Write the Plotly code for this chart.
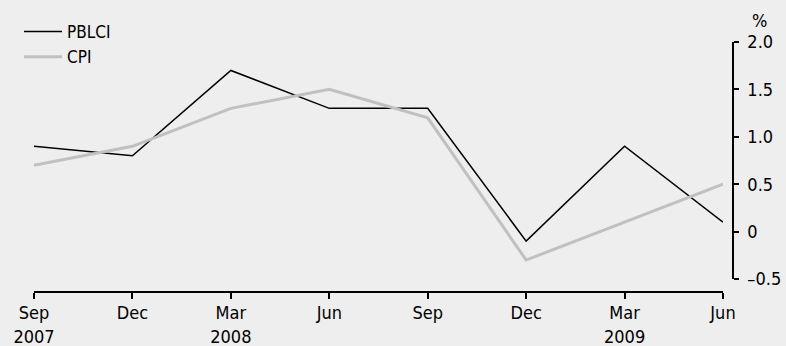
import plotly.graph_objects as go

quarters = ["Sep 2007", "Dec 2007", "Mar 2008", "Jun 2008", "Sep 2008", "Dec 2008", "Mar 2009", "Jun 2009"]
tick_labels = ["Sep<br>2007", "Dec", "Mar<br>2008", "Jun", "Sep", "Dec", "Mar<br>2009", "Jun"]
pblci = [0.9, 0.8, 1.7, 1.3, 1.3, -0.1, 0.9, 0.1]
cpi = [0.7, 0.9, 1.3, 1.5, 1.2, -0.3, 0.1, 0.5]
y_ticks = [-0.5, 0, 0.5, 1.0, 1.5, 2.0]
y_tick_text = ["\u20130.5", "0", "0.5", "1.0", "1.5", "2.0"]

FONT = "DejaVu Sans Condensed, Liberation Sans Narrow, Liberation Sans, sans-serif"
x_idx = list(range(len(quarters)))

fig = go.Figure()
fig.add_trace(go.Scatter(x=x_idx, y=pblci, mode="lines", name="PBLCI",
                         line=dict(color="#000000", width=1.5)))
fig.add_trace(go.Scatter(x=x_idx, y=cpi, mode="lines", name="CPI",
                         line=dict(color="#c0c0c0", width=3)))

W, H = 786, 346
left, right_px, top, bottom_px = 34, 733, 42, 292
pw = right_px - left
ph = bottom_px - top
fig.update_layout(
    width=W, height=H,
    paper_bgcolor="#eeeeee", plot_bgcolor="#eeeeee",
    margin=dict(l=left, r=W - right_px, t=top, b=H - bottom_px, autoexpand=False),
    font=dict(family=FONT, size=18, color="#000000"),
    showlegend=True,
    legend=dict(x=(19 - left) / pw, y=1 + (top - 14) / ph, xanchor="left", yanchor="top",
                bgcolor="rgba(0,0,0,0)", font=dict(size=17),
                itemwidth=38, tracegroupgap=0),
    xaxis=dict(domain=[0, (723 - left) / pw], range=[0, 7],
               anchor="free", position=0, automargin=False,
               tickmode="array", tickvals=x_idx, ticktext=tick_labels,
               showline=True, linecolor="#000000", linewidth=1.5,
               ticks="outside", ticklen=6, tickwidth=1.5, tickcolor="#000000",
               ticklabelstandoff=-1,
               showgrid=False, zeroline=False, fixedrange=True),
    yaxis=dict(domain=[(bottom_px - 279) / ph, 1], range=[-0.5, 2.0],
               side="right", anchor="free", position=1, automargin=False,
               tickmode="array", tickvals=y_ticks, ticktext=y_tick_text,
               showline=True, linecolor="#000000", linewidth=1.5,
               ticks="outside", ticklen=5, tickwidth=1.5, tickcolor="#000000",
               ticklabelstandoff=5,
               showgrid=False, zeroline=False, fixedrange=True),
    annotations=[dict(text="%", xref="paper", yref="paper", x=(760 - left) / pw,
                      y=1 + (top - 21) / ph,
                      xanchor="center", yanchor="middle", showarrow=False,
                      font=dict(size=18))],
)

fig.write_html("out.html", config={"displayModeBar": False},
               post_script="document.body.style.margin='0';document.body.style.background='#eeeeee';")
